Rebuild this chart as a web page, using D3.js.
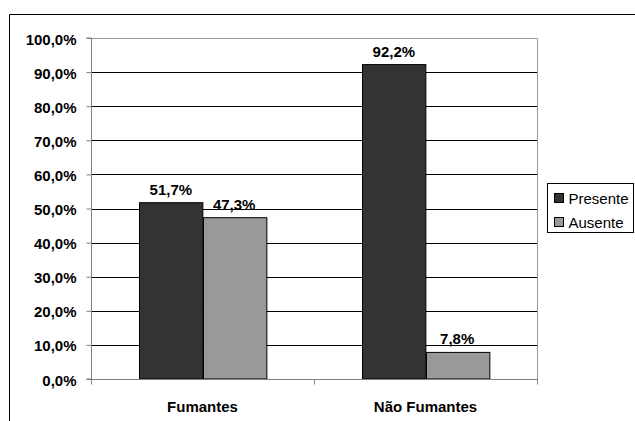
<!DOCTYPE html>
<html>
<head>
<meta charset="utf-8">
<script src="https://cdn.jsdelivr.net/npm/d3@7"></script>
<style>
  body { margin: 0; background: #fff; }
  svg { display: block; font-family: Arial, "Liberation Sans", sans-serif; }
</style>
</head>
<body>
<div id="chart"></div>
<script>
const categories = ["Fumantes", "Não Fumantes"];
const seriesNames = ["Presente", "Ausente"];
const presente = [51.7, 92.2];
const ausente = [47.3, 7.8];
const yTicks = [0, 10, 20, 30, 40, 50, 60, 70, 80, 90, 100];
const colors = ["#333333", "#999999"];

const width = 635, height = 421;
const plot = { left: 91, right: 537, top: 38, bottom: 379 };

const svg = d3.select("#chart").append("svg")
  .attr("width", width)
  .attr("height", height);

// outer chart frame (bottom and right are cut off)
svg.append("path")
  .attr("d", `M9.5,${height} L9.5,14.5 L${width},14.5`)
  .attr("fill", "none")
  .attr("stroke", "#000")
  .attr("stroke-width", 1);

const x0 = d3.scaleBand()
  .domain(categories)
  .range([plot.left, plot.right])
  .paddingInner(0)
  .paddingOuter(0);

const x1 = d3.scaleBand()
  .domain(seriesNames)
  .range([0, x0.bandwidth()])
  .paddingOuter(0.76)
  .paddingInner(0);

const y = d3.scaleLinear()
  .domain([0, 100])
  .range([plot.bottom, plot.top]);

const fmt = v => d3.format(".1f")(v).replace(".", ",") + "%";

// gridlines
svg.append("g")
  .selectAll("line")
  .data(yTicks.filter(t => t > 0 && t < 100))
  .join("line")
  .attr("x1", plot.left)
  .attr("x2", plot.right)
  .attr("y1", d => Math.round(y(d)) + 0.5)
  .attr("y2", d => Math.round(y(d)) + 0.5)
  .attr("stroke", "#000");

// plot area border (top + right)
svg.append("path")
  .attr("d", `M${plot.left},${plot.top + 0.5} L${plot.right + 0.5},${plot.top + 0.5} L${plot.right + 0.5},${plot.bottom}`)
  .attr("fill", "none")
  .attr("stroke", "#999");

const rows = categories.map((c, i) => ({ cat: c, values: [presente[i], ausente[i]] }));

const groups = svg.append("g")
  .selectAll("g")
  .data(rows)
  .join("g")
  .attr("transform", d => `translate(${x0(d.cat)},0)`);

groups.selectAll("rect")
  .data(d => d.values.map((v, j) => ({ key: seriesNames[j], v, j })))
  .join("rect")
  .attr("x", d => Math.round(x1(d.key)) + 0.5)
  .attr("y", d => y(d.v))
  .attr("width", x1.bandwidth())
  .attr("height", d => plot.bottom - y(d.v))
  .attr("fill", d => colors[d.j])
  .attr("stroke", "#000")
  .attr("stroke-width", 1);

groups.selectAll("text")
  .data(d => d.values.map((v, j) => ({ key: seriesNames[j], v, j })))
  .join("text")
  .attr("x", d => x1(d.key) + x1.bandwidth() / 2)
  .attr("y", d => y(d.v) - 8)
  .attr("text-anchor", "middle")
  .attr("font-size", 15)
  .attr("font-weight", "bold")
  .text(d => fmt(d.v));

// y axis
const yAxis = svg.append("g")
  .attr("transform", `translate(${plot.left + 0.5},0)`)
  .call(d3.axisLeft(y).tickValues(yTicks).tickSize(5).tickFormat(fmt));
yAxis.select(".domain").attr("stroke", "#808080").attr("d", `M-5,${plot.top}H0V${plot.bottom}H-5`);
yAxis.selectAll(".tick line").attr("stroke", "#808080");
yAxis.selectAll(".tick text")
  .attr("x", -15)
  .attr("dy", "0.4em")
  .attr("font-size", 15)
  .attr("font-weight", "bold")
  .attr("font-family", "Arial, 'Liberation Sans', sans-serif")
  .attr("fill", "#000");

// x axis
const xAxis = svg.append("g")
  .attr("transform", `translate(0,${plot.bottom + 0.5})`);
xAxis.append("line")
  .attr("x1", plot.left).attr("x2", plot.right + 1)
  .attr("stroke", "#808080");
xAxis.selectAll(".xt")
  .data([plot.left, x0("Não Fumantes"), plot.right])
  .join("line")
  .attr("x1", d => Math.round(d) + 0.5)
  .attr("x2", d => Math.round(d) + 0.5)
  .attr("y1", 0).attr("y2", 5)
  .attr("stroke", "#808080");
xAxis.selectAll("text")
  .data(categories)
  .join("text")
  .attr("x", d => x0(d) + x0.bandwidth() / 2)
  .attr("y", 32)
  .attr("text-anchor", "middle")
  .attr("font-size", 15)
  .attr("font-weight", "bold")
  .text(d => d);

// legend
const legend = svg.append("g").attr("transform", "translate(547.5,183.5)");
legend.append("rect")
  .attr("width", 86).attr("height", 49)
  .attr("fill", "#fff").attr("stroke", "#000");
const li = legend.selectAll(".li")
  .data(seriesNames)
  .join("g")
  .attr("transform", (d, i) => `translate(7,${10 + i * 24})`);
li.append("rect")
  .attr("width", 9).attr("height", 9)
  .attr("fill", (d, i) => colors[i])
  .attr("stroke", "#000");
li.append("text")
  .attr("x", 14)
  .attr("y", 10)
  .attr("font-size", 15)
  .text(d => d);
</script>
</body>
</html>
